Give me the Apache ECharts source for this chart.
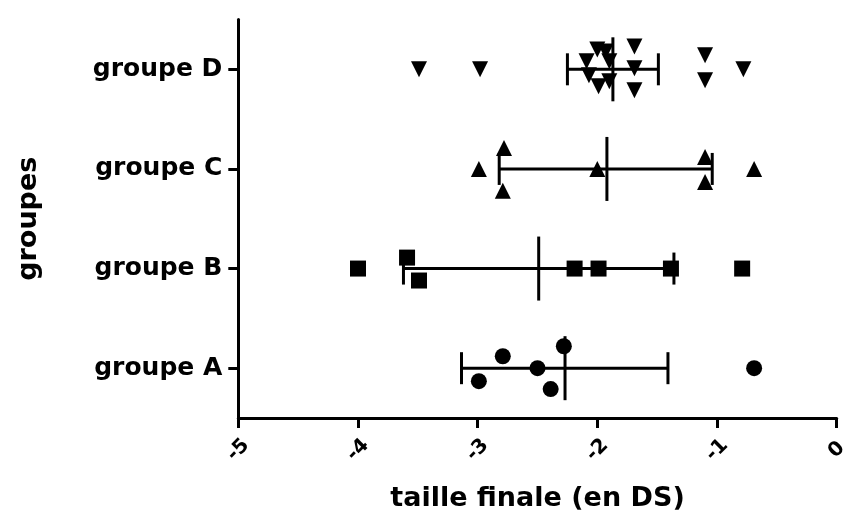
<!DOCTYPE html>
<html>
<head>
<meta charset="utf-8">
<script src="https://cdn.jsdelivr.net/npm/echarts@6/dist/echarts.min.js"></script>
<style>html,body{margin:0;padding:0;background:#fff}#c{width:844px;height:525px}</style>
</head>
<body>
<div id="c"></div>
<script>
const categories = ['groupe A', 'groupe B', 'groupe C', 'groupe D'];
const xTicks = [-5, -4, -3, -2, -1, 0];

const valuesA = [-2.79, -2.99, -2.50, -2.39, -2.28, -0.69];
const jitterA = [0.12, -0.13, 0, -0.21, 0.22, 0];
const valuesB = [-4.0, -3.59, -3.49, -2.19, -1.99, -1.385, -0.79];
const jitterB = [0, 0.11, -0.12, 0, 0, 0, 0];
const valuesC = [-2.99, -2.78, -2.79, -2.0, -1.10, -1.10, -0.69];
const jitterC = [0, 0.21, -0.22, 0, 0.12, -0.13, 0];
const valuesD = [-3.49, -2.98, -2.09, -2.0, -1.93, -1.90, -2.07, -1.99, -1.90, -1.69, -1.69, -1.69, -1.10, -1.10, -0.78];
const jitterD = [0, 0, 0.08, 0.2, 0.18, 0.08, -0.06, -0.17, -0.12, 0.23, 0.01, -0.21, 0.14, -0.11, 0];

const meanVals = [-2.27, -2.49, -1.92, -1.87];
const lowVals = [-3.135, -3.62, -2.82, -2.25];
const highVals = [-1.41, -1.36, -1.04, -1.49];

const FONT = 'DejaVu Sans';
const groups = [
  { v: valuesA, j: jitterA, symbol: 'circle', rot: 0 },
  { v: valuesB, j: jitterB, symbol: 'rect', rot: 0 },
  { v: valuesC, j: jitterC, symbol: 'triangle', rot: 0 },
  { v: valuesD, j: jitterD, symbol: 'triangle', rot: 180 }
];

const scatterSeries = groups.map((g, gi) => ({
  type: 'scatter',
  xAxisIndex: 0,
  yAxisIndex: 1,
  symbol: g.symbol,
  symbolRotate: g.rot,
  symbolSize: 16,
  itemStyle: { color: '#000', opacity: 1 },
  silent: true,
  data: g.v.map((x, i) => [x, gi + 0.5 + g.j[i]])
}));

const errData = categories.map((c, i) => [lowVals[i], meanVals[i], highVals[i], i + 0.5]);

const errSeries = {
  type: 'custom',
  xAxisIndex: 0,
  yAxisIndex: 1,
  silent: true,
  z: 3,
  data: errData,
  renderItem: function (params, api) {
    const y = api.value(3);
    const pL = api.coord([api.value(0), y]);
    const pM = api.coord([api.value(1), y]);
    const pH = api.coord([api.value(2), y]);
    const st = { stroke: '#000', lineWidth: 3 };
    return {
      type: 'group',
      children: [
        { type: 'line', shape: { x1: pL[0], y1: pL[1], x2: pH[0], y2: pH[1] }, style: st },
        { type: 'line', shape: { x1: pL[0], y1: pL[1] - 16, x2: pL[0], y2: pL[1] + 16 }, style: st },
        { type: 'line', shape: { x1: pH[0], y1: pH[1] - 16, x2: pH[0], y2: pH[1] + 16 }, style: st },
        { type: 'line', shape: { x1: pM[0], y1: pM[1] - 32, x2: pM[0], y2: pM[1] + 32 }, style: st }
      ]
    };
  }
};

const chart = echarts.init(document.getElementById('c'), null, { renderer: 'canvas' });
chart.setOption({
  animation: false,
  backgroundColor: '#fff',
  grid: { left: 238.3, right: 7.3, top: 19.5, bottom: 107, containLabel: false, outerBoundsMode: 'none' },
  xAxis: [{
    type: 'value',
    min: -5, max: 0, interval: 1,
    name: 'taille finale (en DS)',
    nameLocation: 'middle',
    nameGap: 67,
    nameTextStyle: { fontFamily: FONT, fontWeight: 'bold', fontSize: 27, color: '#000' },
    axisLine: { show: true, onZero: false, lineStyle: { color: '#000', width: 3 } },
    axisTick: { show: true, length: 10, lineStyle: { color: '#000', width: 3 } },
    splitLine: { show: false },
    axisLabel: {
      rotate: 45, margin: 32, align: 'center', verticalAlign: 'middle',
      fontFamily: FONT, fontWeight: 'bold', fontSize: 20, color: '#000',
      formatter: function (v) { return xTicks.indexOf(v) >= 0 ? String(v) : ''; }
    }
  }],
  yAxis: [{
    type: 'category',
    data: categories,
    boundaryGap: true,
    position: 'left',
    name: 'groupes',
    nameLocation: 'middle',
    nameGap: 196,
    nameTextStyle: { fontFamily: FONT, fontWeight: 'bold', fontSize: 27, color: '#000' },
    axisLine: { show: true, onZero: false, lineStyle: { color: '#000', width: 3 } },
    axisTick: { show: true, alignWithLabel: true, length: 10, lineStyle: { color: '#000', width: 3 } },
    splitLine: { show: false },
    axisLabel: { margin: 16, fontFamily: FONT, fontWeight: 'bold', fontSize: 25, color: '#000' }
  }, {
    type: 'value', min: 0, max: 4, show: false
  }],
  series: scatterSeries.concat([errSeries])
});
</script>
</body>
</html>
